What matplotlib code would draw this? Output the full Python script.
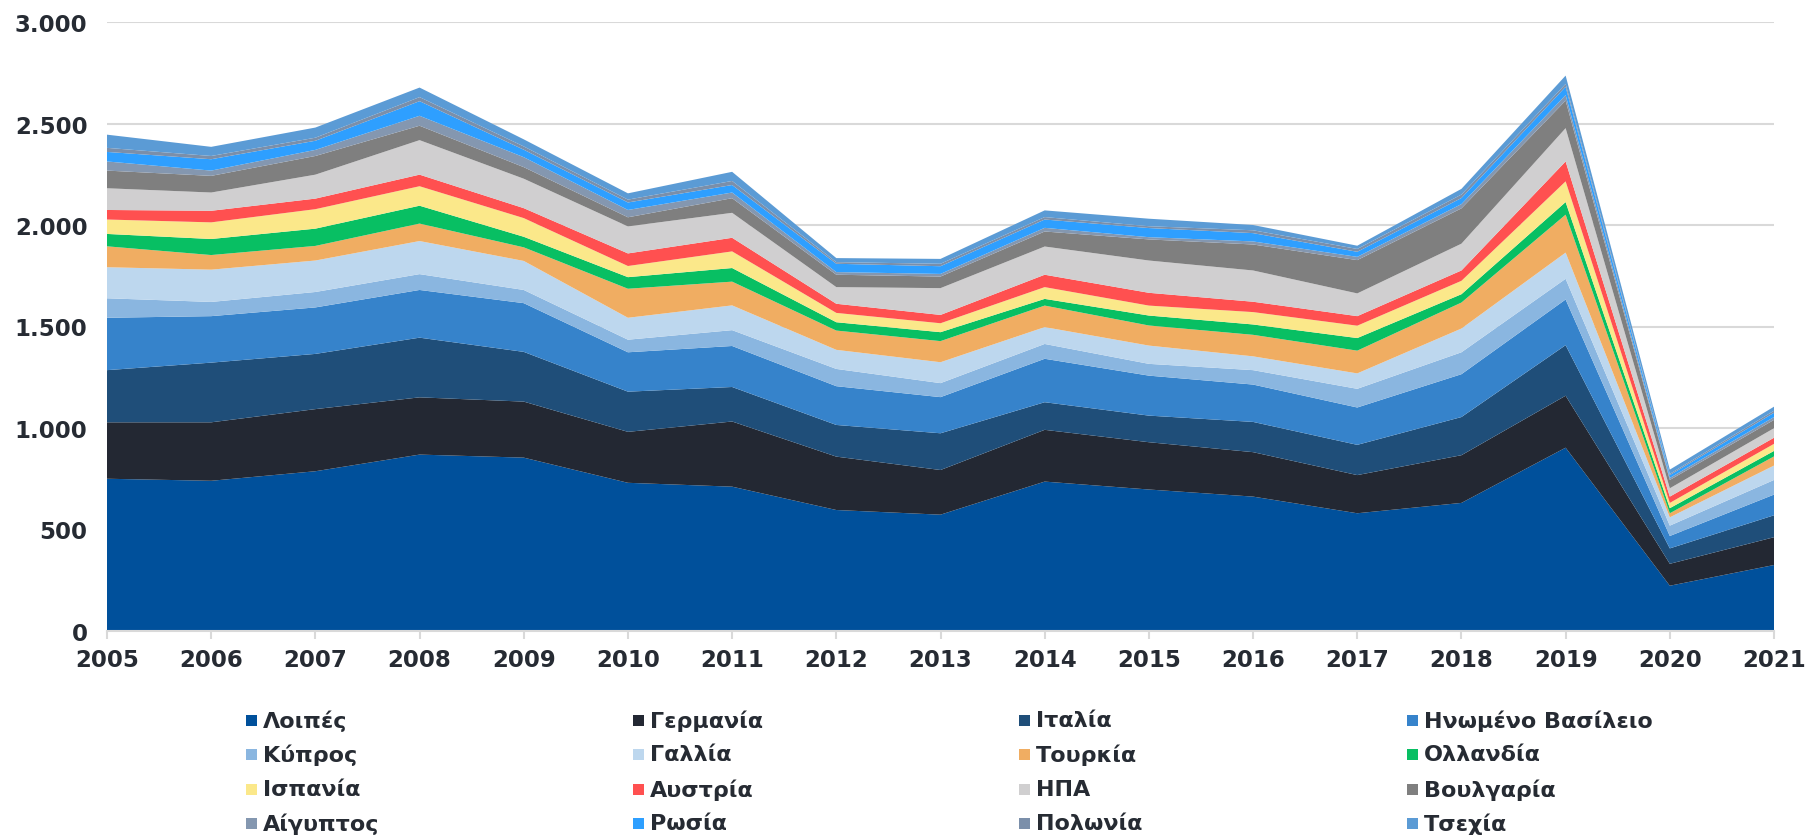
import matplotlib
matplotlib.use("Agg")
import matplotlib.pyplot as plt
from matplotlib.patches import Rectangle

years = list(range(2005, 2022))

series_names = ["Λοιπές", "Γερμανία", "Ιταλία", "Ηνωμένο Βασίλειο",
                "Κύπρος", "Γαλλία", "Τουρκία", "Ολλανδία",
                "Ισπανία", "Αυστρία", "ΗΠΑ", "Βουλγαρία",
                "Αίγυπτος", "Ρωσία", "Πολωνία", "Τσεχία"]

loipes      = [750, 740, 787, 869, 854, 730, 711, 596, 573, 736, 697, 662, 580, 631, 903, 223, 325]
germania    = [278, 288, 306, 282, 276, 251, 321, 263, 220, 255, 233, 219, 188, 235, 256, 108, 137]
italia      = [257, 294, 272, 294, 245, 198, 170, 156, 181, 136, 131, 149, 149, 188, 249, 76, 108]
hv          = [258, 229, 229, 235, 240, 194, 202, 191, 178, 214, 197, 184, 184, 211, 225, 61, 102]
kypros      = [96, 70, 76, 78, 65, 62, 78, 85, 69, 73, 58, 71, 92, 108, 102, 51, 72]
gallia      = [153, 159, 155, 163, 143, 108, 122, 94, 103, 83, 90, 68, 76, 117, 129, 41, 71]
tourkia     = [103, 72, 72, 86, 67, 143, 117, 95, 104, 106, 99, 106, 112, 128, 187, 20, 45]
ollandia    = [61, 79, 85, 88, 52, 57, 67, 41, 44, 33, 49, 51, 62, 41, 62, 25, 27]
ispania     = [71, 82, 96, 96, 92, 55, 82, 46, 44, 58, 49, 61, 61, 66, 102, 26, 35]
afstria     = [47, 57, 52, 57, 49, 62, 67, 45, 41, 61, 63, 51, 47, 51, 98, 31, 30]
ipa         = [107, 90, 118, 170, 145, 133, 123, 82, 132, 139, 159, 154, 112, 132, 164, 41, 47]
voulgaria   = [87, 82, 92, 71, 57, 45, 72, 61, 57, 74, 104, 128, 164, 174, 136, 41, 41]
aigyptos    = [45, 26, 30, 49, 49, 36, 28, 13, 13, 18, 11, 15, 16, 21, 27, 10, 14]
rosia       = [47, 56, 45, 72, 37, 37, 37, 41, 38, 41, 45, 41, 25, 30, 41, 14, 21]
polonia     = [20, 16, 15, 20, 16, 14, 20, 8, 12, 12, 9, 14, 14, 17, 14, 6, 10]
tsexia      = [65, 45, 50, 47, 35, 31, 45, 20, 24, 33, 37, 26, 16, 28, 41, 21, 20]

series_values = [loipes, germania, italia, hv, kypros, gallia, tourkia, ollandia,
                 ispania, afstria, ipa, voulgaria, aigyptos, rosia, polonia, tsexia]

colors = ["#00509B", "#232833", "#1F4E79", "#3683CB",
          "#8AB6E0", "#BDD7EE", "#F0AD62", "#08BF63",
          "#FBE88A", "#FF5050", "#D0CFD0", "#7F7F7F",
          "#8497B0", "#2E9FFF", "#7B8FAA", "#5B9BD5"]

yticks = [0, 500, 1000, 1500, 2000, 2500, 3000]
ytick_labels = ["0", "500", "1.000", "1.500", "2.000", "2.500", "3.000"]

W, H = 1811, 837
fig = plt.figure(figsize=(W / 100, H / 100), dpi=100)
left, right, top, bottom = 107, 1774, 23, 632
ax = fig.add_axes([left / W, 1 - bottom / H, (right - left) / W, (bottom - top) / H])

ax.stackplot(years, *series_values, colors=colors, linewidth=0, zorder=2)

ax.set_xlim(2005, 2021)
ax.set_ylim(0, 3000)
ax.set_yticks(yticks)
ax.set_yticklabels(ytick_labels)
ax.set_xticks(years)
ax.set_xticklabels([str(y) for y in years])
ax.grid(axis="y", color="#D9D9D9", linewidth=1.5, zorder=0)
ax.set_axisbelow(True)
for s in ["top", "right", "left"]:
    ax.spines[s].set_visible(False)
ax.spines["bottom"].set_color("#D9D9D9")
ax.spines["bottom"].set_linewidth(1.5)
ax.spines["bottom"].set_zorder(3)
ax.tick_params(axis="y", length=0, pad=14, labelsize=16.5, labelcolor="#262b33")
ax.tick_params(axis="x", length=6, width=1.5, color="#D9D9D9", pad=6,
               labelsize=16.5, labelcolor="#262b33")
for lab in ax.get_xticklabels() + ax.get_yticklabels():
    lab.set_fontweight("bold")
    lab.set_fontfamily("DejaVu Sans")

# legend (4 columns, row-wise)
col_x = [246, 633, 1019, 1407]
row_y = [721, 755, 790, 824]
sq = 11
for i, (name, c) in enumerate(zip(series_names, colors)):
    r, cidx = divmod(i, 4)
    x = col_x[cidx]
    y = row_y[r]
    fig.add_artist(Rectangle((x / W, 1 - (y + sq / 2) / H), sq / W, sq / H,
                             transform=fig.transFigure, facecolor=c, edgecolor="none"))
    fig.text((x + sq + 6) / W, 1 - y / H, name, fontsize=16, fontweight="bold",
             color="#262b33", va="center", ha="left", family="DejaVu Sans")

fig.savefig("out.png", dpi=100)
